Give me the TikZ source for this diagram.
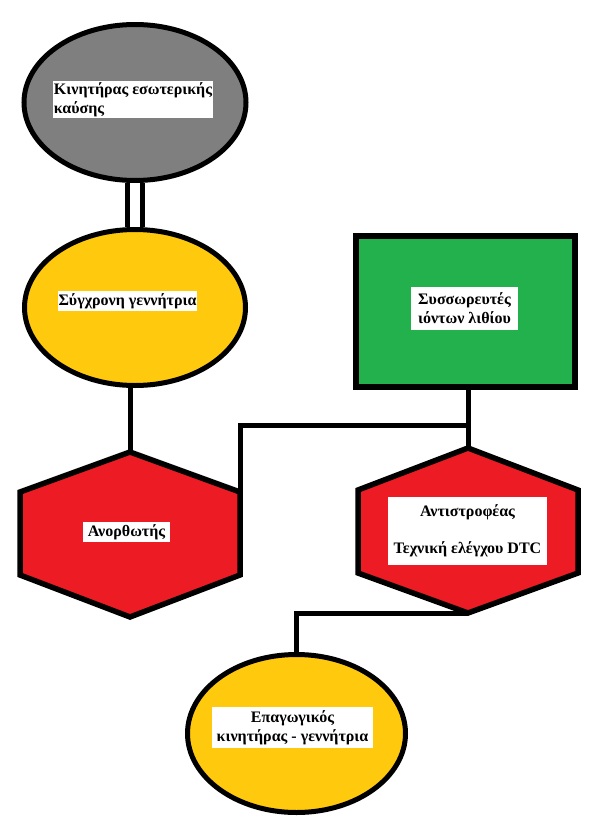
\documentclass[tikz,border=0pt]{standalone}
\usepackage{fontspec}
\setmainfont{Liberation Serif}
\usetikzlibrary{shapes.geometric,calc}
\definecolor{pgray}{RGB}{127,127,127}
\definecolor{pyellow}{RGB}{255,201,14}
\definecolor{pgreen}{RGB}{34,177,76}
\definecolor{pred}{RGB}{237,28,36}
\begin{document}
\begin{tikzpicture}[x=1pt,y=-1pt,
  wire/.style={line width=5pt},
  oval/.style={ellipse,draw=black,line width=5pt,inner sep=0pt},
  hexa/.style={draw=black,line width=5.5pt,fill=pred,line join=miter},
  lbl/.style={fill=white,inner sep=1pt,font=\fontsize{16}{19}\selectfont\bfseries,text=black}]
\useasboundingbox (0,0) rectangle (604,830);
\fill[white] (0,0) rectangle (604,830);
% shapes
\node[oval,fill=pgray,minimum width=222pt,minimum height=156pt] (eng) at (135,102.5) {};
\node[oval,fill=pyellow,minimum width=221pt,minimum height=156pt] (syn) at (135,307.5) {};
\node[draw=black,line width=6pt,fill=pgreen,minimum width=219pt,minimum height=151pt,inner sep=0pt] (bat) at (465.5,311.5) {};
\node[oval,fill=pyellow,minimum width=218pt,minimum height=158pt] (mot) at (296.5,733.5) {};
% left hexagon
\coordinate (lt) at (130,452);
\coordinate (lur) at (240,492);
\coordinate (llr) at (240,575);
\coordinate (lb) at (130,617);
\coordinate (lll) at (20,575);
\coordinate (lul) at (20,492);
\draw[hexa] (lt) -- (lur) -- (llr) -- (lb) -- (lll) -- (lul) -- cycle;
% right hexagon
\coordinate (rt) at (468,448);
\coordinate (rur) at (578,490);
\coordinate (rlr) at (578,573);
\coordinate (rb) at (468,613);
\coordinate (rll) at (358,573);
\coordinate (rul) at (358,490);
\draw[hexa] (rt) -- (rur) -- (rlr) -- (rb) -- (rll) -- (rul) -- cycle;
\coordinate (jn) at (468,425);
% connectors
\draw[line width=5pt,double=white,double distance=10pt] (eng.south) -- (eng.south |- syn.north);
\draw[wire] (lt) -- (lt |- syn.south);
\draw[wire] (rt |- bat.south) -- (rt);
\draw[wire] (lur) |- (jn);
\draw[wire] (rb) -| (mot);
% labels
\node[lbl,align=left,minimum width=160pt,minimum height=35pt] (engl) at (133,99.5) {Κινητήρας εσωτερικής\\καύσης};
\node[lbl,minimum width=139pt,minimum height=20pt] (synl) at (127.5,301) {Σύγχρονη γεννήτρια};
\node[lbl,align=center,minimum width=107pt,minimum height=43pt] (batl) at (464.5,308.5) {Συσσωρευτές\\ιόντων λιθίου};
\node[lbl,minimum width=87pt,minimum height=20pt] (rectl) at (126.5,532) {Ανορθωτής};
\node[lbl,align=center,minimum width=159pt,minimum height=68pt] (invl) at (467.5,531) {Αντιστροφέας\\[18pt]Τεχνική ελέγχου DTC};
\node[lbl,align=center,minimum width=161pt,minimum height=41pt] (motl) at (292.5,727.5) {Επαγωγικός\\κινητήρας - γεννήτρια};
\end{tikzpicture}
\end{document}
